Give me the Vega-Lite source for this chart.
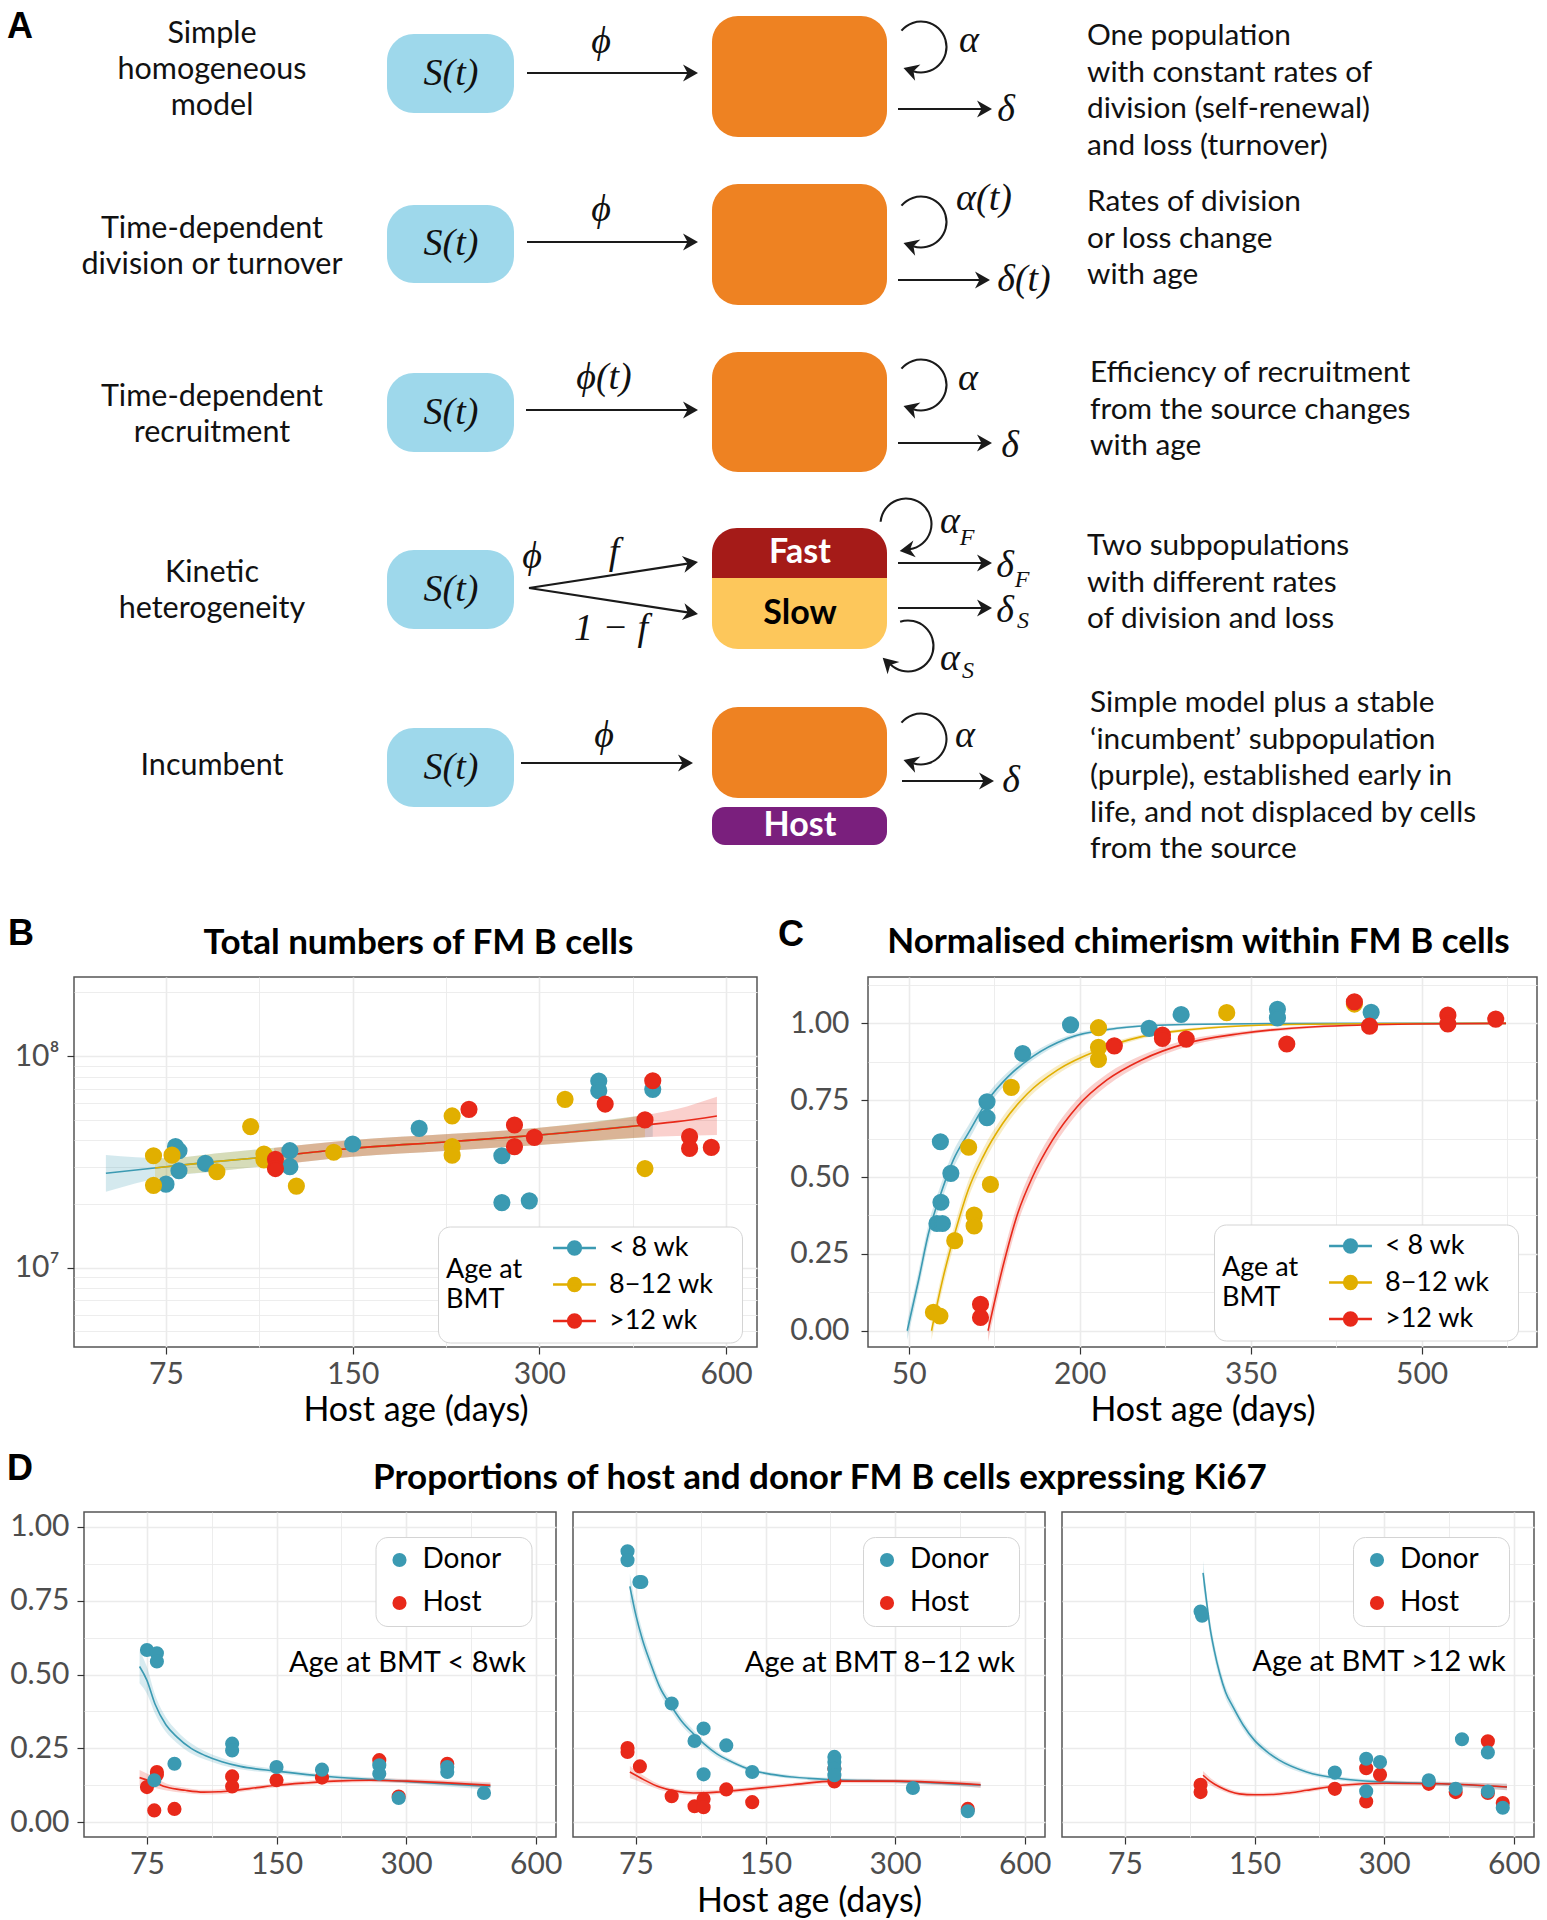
{
"$schema": "https://vega.github.io/schema/vega-lite/v6.json",
"background": "white",
"padding": 0,
"bounds": "flush",
"spacing": 165,
"resolve": {"scale": {"x": "independent", "y": "independent", "color": "independent", "fill": "independent", "stroke": "independent"}, "legend": {"color": "independent", "fill": "independent", "stroke": "independent"}},
"datasets": {
"boxes": [
{"kind":"S","x1":387,"x2":514,"y1":34,"y2":113},
{"kind":"S","x1":387,"x2":514,"y1":205,"y2":283},
{"kind":"S","x1":387,"x2":514,"y1":373,"y2":452},
{"kind":"S","x1":387,"x2":514,"y1":550,"y2":629},
{"kind":"S","x1":387,"x2":514,"y1":728,"y2":807},
{"kind":"pool","x1":712,"x2":887,"y1":16,"y2":137},
{"kind":"pool","x1":712,"x2":887,"y1":184,"y2":305},
{"kind":"pool","x1":712,"x2":887,"y1":352,"y2":472},
{"kind":"pool","x1":712,"x2":887,"y1":707,"y2":798},
{"kind":"fast","x1":712,"x2":887,"y1":528,"y2":578},
{"kind":"slow","x1":712,"x2":887,"y1":578,"y2":649},
{"kind":"host","x1":712,"x2":887,"y1":807,"y2":845}
],
"shafts": [
{"x":527,"y":73,"xe":694,"ye":73},
{"x":527,"y":242,"xe":694,"ye":242},
{"x":526,"y":410,"xe":694,"ye":410},
{"x":529,"y":588,"xe":694,"ye":562.6},
{"x":529,"y":588,"xe":694,"ye":613.4},
{"x":521,"y":763,"xe":689,"ye":763},
{"x":898,"y":109,"xe":988,"ye":109},
{"x":898,"y":280,"xe":986,"ye":280},
{"x":898,"y":443,"xe":988,"ye":443},
{"x":898,"y":563,"xe":988,"ye":563},
{"x":898,"y":608,"xe":988,"ye":608},
{"x":902,"y":781,"xe":990,"ye":781}
],
"heads": [
{"x":698,"y":73,"dir":"right"},{"x":698,"y":242,"dir":"right"},{"x":698,"y":410,"dir":"right"},
{"x":698,"y":562,"dir":"up"},{"x":698,"y":614,"dir":"down"},{"x":693,"y":763,"dir":"right"},
{"x":992,"y":109,"dir":"right"},{"x":990,"y":280,"dir":"right"},{"x":992,"y":443,"dir":"right"},
{"x":992,"y":563,"dir":"right"},{"x":992,"y":608,"dir":"right"},{"x":994,"y":781,"dir":"right"},
{"x":903.5,"y":68,"dir":"loop"},{"x":903.5,"y":243,"dir":"loop"},{"x":903.5,"y":406,"dir":"loop"},{"x":903.5,"y":760,"dir":"loop"},
{"x":899.7,"y":551,"dir":"loopF"},{"x":882.7,"y":657.7,"dir":"loopS"}
],
"loops": [
{"kind":"std","x":921,"y":47},{"kind":"std","x":921,"y":222},{"kind":"std","x":921,"y":385},{"kind":"std","x":921,"y":739},
{"kind":"F","x":906,"y":524},{"kind":"S","x":908,"y":646}
],
"leftText": [
{"t":"Simple\nhomogeneous\nmodel","x":212,"y":43},
{"t":"Time-dependent\ndivision or turnover","x":212,"y":238},
{"t":"Time-dependent\nrecruitment","x":212,"y":406},
{"t":"Kinetic\nheterogeneity","x":212,"y":582},
{"t":"Incumbent","x":212,"y":775}
],
"rightText": [
{"t":"One population\nwith constant rates of\ndivision (self-renewal)\nand loss (turnover)","x":1087,"y":45},
{"t":"Rates of division\nor loss change\nwith age","x":1087,"y":211},
{"t":"Efficiency of recruitment\nfrom the source changes\nwith age","x":1090,"y":382},
{"t":"Two subpopulations\nwith different rates\nof division and loss","x":1087,"y":555},
{"t":"Simple model plus a stable\n‘incumbent’ subpopulation\n(purple), established early in\nlife, and not displaced by cells\nfrom the source","x":1090,"y":712}
],
"mathText": [
{"t":"S(t)","x":451,"y":73.5},{"t":"S(t)","x":451,"y":244},{"t":"S(t)","x":451,"y":412.5},{"t":"S(t)","x":451,"y":589.5},{"t":"S(t)","x":451,"y":767.5},
{"t":"ϕ","x":601,"y":42},{"t":"ϕ","x":601,"y":210},{"t":"ϕ(t)","x":604,"y":378},{"t":"ϕ","x":532,"y":557},{"t":"ϕ","x":604,"y":736},
{"t":"f","x":614,"y":553},{"t":"1 − f","x":611,"y":629},
{"t":"α","x":969,"y":41},{"t":"α(t)","x":984,"y":199},{"t":"α","x":968,"y":379},{"t":"α","x":965,"y":736},{"t":"α","x":950,"y":522},{"t":"α","x":950,"y":659},
{"t":"δ","x":1006,"y":110},{"t":"δ(t)","x":1024,"y":280},{"t":"δ","x":1010,"y":446},{"t":"δ","x":1011,"y":781},{"t":"δ","x":1005,"y":566},{"t":"δ","x":1005,"y":611}
],
"subText": [
{"t":"F","x":967,"y":538},{"t":"S","x":968,"y":671},{"t":"F","x":1022,"y":580},{"t":"S","x":1023,"y":621}
],
"boxText": [
{"t":"Fast","x":800,"y":553,"kind":"w"},{"t":"Slow","x":800,"y":613.5,"kind":"b"},{"t":"Host","x":800,"y":826,"kind":"w"}
],
"letterA": [{"t":"A","x":7,"y":38}],
"countPts": [
{"grp":"< 8 wk","age":77.7,"n":37300000},{"grp":"< 8 wk","age":78.7,"n":35700000},{"grp":"< 8 wk","age":78.7,"n":28700000},
{"grp":"< 8 wk","age":75,"n":24800000},{"grp":"< 8 wk","age":86.8,"n":31100000},{"grp":"< 8 wk","age":118.8,"n":35700000},
{"grp":"< 8 wk","age":118.8,"n":30000000},{"grp":"< 8 wk","age":150,"n":38400000},{"grp":"< 8 wk","age":192,"n":45500000},
{"grp":"< 8 wk","age":261,"n":33800000},{"grp":"< 8 wk","age":261,"n":20300000},{"grp":"< 8 wk","age":289,"n":20700000},
{"grp":"< 8 wk","age":374,"n":76200000},{"grp":"< 8 wk","age":374,"n":68600000},{"grp":"< 8 wk","age":457,"n":69600000},
{"grp":"8−12 wk","age":71.6,"n":33800000},{"grp":"8−12 wk","age":71.6,"n":24500000},{"grp":"8−12 wk","age":76.7,"n":34000000},
{"grp":"8−12 wk","age":90.6,"n":28400000},{"grp":"8−12 wk","age":102.7,"n":46400000},{"grp":"8−12 wk","age":107.9,"n":34400000},
{"grp":"8−12 wk","age":107.9,"n":32300000},{"grp":"8−12 wk","age":121.7,"n":24300000},{"grp":"8−12 wk","age":139.8,"n":35100000},
{"grp":"8−12 wk","age":217,"n":52100000},{"grp":"8−12 wk","age":217,"n":37300000},{"grp":"8−12 wk","age":217,"n":34000000},
{"grp":"8−12 wk","age":330,"n":62400000},{"grp":"8−12 wk","age":444,"n":29400000},
{"grp":">12 wk","age":112.6,"n":32500000},{"grp":">12 wk","age":112.6,"n":29400000},{"grp":">12 wk","age":231,"n":56000000},
{"grp":">12 wk","age":273.5,"n":47200000},{"grp":">12 wk","age":273.5,"n":37300000},{"grp":">12 wk","age":294.5,"n":41300000},
{"grp":">12 wk","age":383,"n":59300000},{"grp":">12 wk","age":444,"n":49900000},{"grp":">12 wk","age":457,"n":76400000},
{"grp":">12 wk","age":524,"n":41600000},{"grp":">12 wk","age":524,"n":36600000},{"grp":">12 wk","age":568,"n":37000000}
],
"countFit": [
{"grp":"< 8 wk","age":60,"mid":27930000,"lo":22860000,"hi":34040000},
{"grp":"< 8 wk","age":75,"mid":29990000,"lo":26920000,"hi":32890000},
{"grp":"< 8 wk","age":90,"mid":31700000,"lo":28440000,"hi":34670000},
{"grp":"< 8 wk","age":110,"mid":33420000,"lo":30340000,"hi":36640000},
{"grp":"< 8 wk","age":150,"mid":36640000,"lo":33420000,"hi":40090000},
{"grp":"< 8 wk","age":214,"mid":39360000,"lo":35730000,"hi":42760000},
{"grp":"< 8 wk","age":300,"mid":42360000,"lo":38020000,"hi":45810000},
{"grp":"< 8 wk","age":444,"mid":47210000,"lo":41300000,"hi":52600000},
{"grp":"< 8 wk","age":457,"mid":47530000,"lo":41500000,"hi":53210000},
{"grp":"8−12 wk","age":72,"mid":29580000,"lo":26300000,"hi":33110000},
{"grp":"8−12 wk","age":75,"mid":29990000,"lo":26920000,"hi":32890000},
{"grp":"8−12 wk","age":90,"mid":31700000,"lo":28440000,"hi":34670000},
{"grp":"8−12 wk","age":110,"mid":33420000,"lo":30340000,"hi":36640000},
{"grp":"8−12 wk","age":150,"mid":36640000,"lo":33420000,"hi":40090000},
{"grp":"8−12 wk","age":214,"mid":39360000,"lo":35730000,"hi":42760000},
{"grp":"8−12 wk","age":300,"mid":42360000,"lo":38020000,"hi":45810000},
{"grp":"8−12 wk","age":444,"mid":47210000,"lo":41300000,"hi":52600000},
{"grp":">12 wk","age":112,"mid":33570000,"lo":30480000,"hi":36810000},
{"grp":">12 wk","age":150,"mid":36640000,"lo":33420000,"hi":40090000},
{"grp":">12 wk","age":214,"mid":39360000,"lo":35730000,"hi":42760000},
{"grp":">12 wk","age":300,"mid":42360000,"lo":38020000,"hi":45810000},
{"grp":">12 wk","age":444,"mid":47210000,"lo":41300000,"hi":52600000},
{"grp":">12 wk","age":500,"mid":48980000,"lo":41880000,"hi":56230000},
{"grp":">12 wk","age":580,"mid":52120000,"lo":42360000,"hi":64270000}
],
"chimPts": [
{"grp":"< 8 wk","age":77.8,"chi":0.615},{"grp":"< 8 wk","age":87,"chi":0.512},{"grp":"< 8 wk","age":78.3,"chi":0.418},
{"grp":"< 8 wk","age":74.8,"chi":0.349},{"grp":"< 8 wk","age":79.6,"chi":0.349},{"grp":"< 8 wk","age":118.7,"chi":0.745},
{"grp":"< 8 wk","age":118.7,"chi":0.693},{"grp":"< 8 wk","age":150,"chi":0.902},{"grp":"< 8 wk","age":192,"chi":0.995},
{"grp":"< 8 wk","age":260.9,"chi":0.984},{"grp":"< 8 wk","age":289,"chi":1.029},{"grp":"< 8 wk","age":373.5,"chi":1.046},
{"grp":"< 8 wk","age":373.5,"chi":1.018},{"grp":"< 8 wk","age":455.7,"chi":1.036},
{"grp":"8−12 wk","age":71.7,"chi":0.06},{"grp":"8−12 wk","age":77.4,"chi":0.048},{"grp":"8−12 wk","age":90.4,"chi":0.293},
{"grp":"8−12 wk","age":102.6,"chi":0.597},{"grp":"8−12 wk","age":107.4,"chi":0.376},{"grp":"8−12 wk","age":107.4,"chi":0.341},
{"grp":"8−12 wk","age":121.7,"chi":0.476},{"grp":"8−12 wk","age":140,"chi":0.792},{"grp":"8−12 wk","age":216.5,"chi":0.986},
{"grp":"8−12 wk","age":216.5,"chi":0.922},{"grp":"8−12 wk","age":216.5,"chi":0.883},{"grp":"8−12 wk","age":329,"chi":1.035},
{"grp":"8−12 wk","age":441,"chi":1.063},
{"grp":">12 wk","age":113,"chi":0.086},{"grp":">12 wk","age":113,"chi":0.043},{"grp":">12 wk","age":230.4,"chi":0.927},
{"grp":">12 wk","age":272.6,"chi":0.962},{"grp":">12 wk","age":272.6,"chi":0.951},{"grp":">12 wk","age":293.5,"chi":0.949},
{"grp":">12 wk","age":381.7,"chi":0.933},{"grp":">12 wk","age":441,"chi":1.07},{"grp":">12 wk","age":454.3,"chi":0.991},
{"grp":">12 wk","age":523,"chi":1.027},{"grp":">12 wk","age":523,"chi":0.998},{"grp":">12 wk","age":565,"chi":1.014}
],
"chimFit": [
{"grp":"< 8 wk","age":48.7,"mid":0,"lo":-0.03,"hi":0.03},
{"grp":"< 8 wk","age":58.7,"mid":0.165,"lo":0.135,"hi":0.195},
{"grp":"< 8 wk","age":67.4,"mid":0.317,"lo":0.287,"hi":0.347},
{"grp":"< 8 wk","age":78.3,"mid":0.447,"lo":0.417,"hi":0.477},
{"grp":"< 8 wk","age":89.1,"mid":0.555,"lo":0.527,"hi":0.583},
{"grp":"< 8 wk","age":102.2,"mid":0.642,"lo":0.617,"hi":0.667},
{"grp":"< 8 wk","age":119.6,"mid":0.751,"lo":0.73,"hi":0.772},
{"grp":"< 8 wk","age":137,"mid":0.826,"lo":0.81,"hi":0.842},
{"grp":"< 8 wk","age":158.7,"mid":0.892,"lo":0.88,"hi":0.904},
{"grp":"< 8 wk","age":189,"mid":0.951,"lo":0.943,"hi":0.959},
{"grp":"< 8 wk","age":232.6,"mid":0.984,"lo":0.979,"hi":0.989},
{"grp":"< 8 wk","age":276,"mid":0.995,"lo":0.992,"hi":0.998},
{"grp":"< 8 wk","age":350,"mid":0.999,"lo":0.997,"hi":1.001},
{"grp":"< 8 wk","age":450,"mid":1,"lo":0.999,"hi":1.001},
{"grp":"< 8 wk","age":574,"mid":1,"lo":0.999,"hi":1.001},
{"grp":"8−12 wk","age":70,"mid":0,"lo":-0.03,"hi":0.03},
{"grp":"8−12 wk","age":80.4,"mid":0.176,"lo":0.146,"hi":0.206},
{"grp":"8−12 wk","age":91.3,"mid":0.328,"lo":0.298,"hi":0.358},
{"grp":"8−12 wk","age":102.2,"mid":0.458,"lo":0.43,"hi":0.486},
{"grp":"8−12 wk","age":115.2,"mid":0.566,"lo":0.54,"hi":0.592},
{"grp":"8−12 wk","age":132.6,"mid":0.675,"lo":0.653,"hi":0.697},
{"grp":"8−12 wk","age":154.3,"mid":0.772,"lo":0.754,"hi":0.79},
{"grp":"8−12 wk","age":180.4,"mid":0.848,"lo":0.834,"hi":0.862},
{"grp":"8−12 wk","age":216.5,"mid":0.913,"lo":0.903,"hi":0.923},
{"grp":"8−12 wk","age":254.3,"mid":0.957,"lo":0.95,"hi":0.964},
{"grp":"8−12 wk","age":297.8,"mid":0.98,"lo":0.975,"hi":0.985},
{"grp":"8−12 wk","age":363,"mid":0.995,"lo":0.992,"hi":0.998},
{"grp":"8−12 wk","age":450,"mid":0.999,"lo":0.998,"hi":1},
{"grp":"8−12 wk","age":574,"mid":1,"lo":0.999,"hi":1.001},
{"grp":">12 wk","age":119.6,"mid":0,"lo":-0.035,"hi":0.035},
{"grp":">12 wk","age":132.6,"mid":0.208,"lo":0.173,"hi":0.243},
{"grp":">12 wk","age":145.7,"mid":0.382,"lo":0.35,"hi":0.414},
{"grp":">12 wk","age":158.7,"mid":0.501,"lo":0.471,"hi":0.531},
{"grp":">12 wk","age":176.1,"mid":0.62,"lo":0.593,"hi":0.647},
{"grp":">12 wk","age":197.8,"mid":0.729,"lo":0.706,"hi":0.752},
{"grp":">12 wk","age":223.9,"mid":0.816,"lo":0.797,"hi":0.835},
{"grp":">12 wk","age":254.3,"mid":0.881,"lo":0.866,"hi":0.896},
{"grp":">12 wk","age":293.5,"mid":0.935,"lo":0.924,"hi":0.946},
{"grp":">12 wk","age":341.3,"mid":0.967,"lo":0.96,"hi":0.974},
{"grp":">12 wk","age":406.5,"mid":0.989,"lo":0.985,"hi":0.993},
{"grp":">12 wk","age":493.5,"mid":0.998,"lo":0.996,"hi":1},
{"grp":">12 wk","age":574,"mid":1,"lo":0.999,"hi":1.001}
],
"kiPts": [
{"bmt":"a","src":"Host","age":75,"ki":0.119},{"bmt":"a","src":"Host","age":79.1,"ki":0.17},{"bmt":"a","src":"Host","age":79.1,"ki":0.161},
{"bmt":"a","src":"Host","age":78,"ki":0.04},{"bmt":"a","src":"Host","age":86.9,"ki":0.045},{"bmt":"a","src":"Host","age":118.3,"ki":0.155},
{"bmt":"a","src":"Host","age":118.3,"ki":0.121},{"bmt":"a","src":"Host","age":150,"ki":0.142},{"bmt":"a","src":"Host","age":191.3,"ki":0.151},
{"bmt":"a","src":"Host","age":259.9,"ki":0.21},{"bmt":"a","src":"Host","age":288.3,"ki":0.087},{"bmt":"a","src":"Host","age":373.9,"ki":0.198},
{"bmt":"a","src":"Donor","age":75,"ki":0.583},{"bmt":"a","src":"Donor","age":79.1,"ki":0.572},{"bmt":"a","src":"Donor","age":79.1,"ki":0.544},
{"bmt":"a","src":"Donor","age":86.9,"ki":0.198},{"bmt":"a","src":"Donor","age":78,"ki":0.142},{"bmt":"a","src":"Donor","age":118.3,"ki":0.266},
{"bmt":"a","src":"Donor","age":118.3,"ki":0.243},{"bmt":"a","src":"Donor","age":150,"ki":0.187},{"bmt":"a","src":"Donor","age":191.3,"ki":0.178},
{"bmt":"a","src":"Donor","age":259.9,"ki":0.193},{"bmt":"a","src":"Donor","age":259.9,"ki":0.164},{"bmt":"a","src":"Donor","age":288.3,"ki":0.082},
{"bmt":"a","src":"Donor","age":373.9,"ki":0.187},{"bmt":"a","src":"Donor","age":373.9,"ki":0.17},{"bmt":"a","src":"Donor","age":455,"ki":0.099},
{"bmt":"b","src":"Host","age":71.7,"ki":0.251},{"bmt":"b","src":"Host","age":71.7,"ki":0.238},{"bmt":"b","src":"Host","age":76.6,"ki":0.189},
{"bmt":"b","src":"Host","age":90.8,"ki":0.088},{"bmt":"b","src":"Host","age":102.6,"ki":0.054},{"bmt":"b","src":"Host","age":107.7,"ki":0.079},
{"bmt":"b","src":"Host","age":107.7,"ki":0.051},{"bmt":"b","src":"Host","age":121.6,"ki":0.111},{"bmt":"b","src":"Host","age":139.7,"ki":0.068},
{"bmt":"b","src":"Host","age":216.8,"ki":0.181},{"bmt":"b","src":"Host","age":216.8,"ki":0.138},{"bmt":"b","src":"Host","age":442.6,"ki":0.045},
{"bmt":"b","src":"Donor","age":71.7,"ki":0.917},{"bmt":"b","src":"Donor","age":71.7,"ki":0.887},{"bmt":"b","src":"Donor","age":76.4,"ki":0.813},
{"bmt":"b","src":"Donor","age":77.2,"ki":0.813},{"bmt":"b","src":"Donor","age":90.8,"ki":0.402},{"bmt":"b","src":"Donor","age":102.6,"ki":0.275},
{"bmt":"b","src":"Donor","age":107.7,"ki":0.317},{"bmt":"b","src":"Donor","age":107.7,"ki":0.162},{"bmt":"b","src":"Donor","age":121.6,"ki":0.26},
{"bmt":"b","src":"Donor","age":139.7,"ki":0.17},{"bmt":"b","src":"Donor","age":216.8,"ki":0.221},{"bmt":"b","src":"Donor","age":216.8,"ki":0.204},
{"bmt":"b","src":"Donor","age":216.8,"ki":0.181},{"bmt":"b","src":"Donor","age":216.8,"ki":0.159},{"bmt":"b","src":"Donor","age":330,"ki":0.116},
{"bmt":"b","src":"Donor","age":442.6,"ki":0.037},
{"bmt":"c","src":"Host","age":112.4,"ki":0.127},{"bmt":"c","src":"Host","age":112.4,"ki":0.102},{"bmt":"c","src":"Host","age":230.5,"ki":0.113},
{"bmt":"c","src":"Host","age":272.6,"ki":0.183},{"bmt":"c","src":"Host","age":272.6,"ki":0.07},{"bmt":"c","src":"Host","age":293.5,"ki":0.161},
{"bmt":"c","src":"Host","age":381,"ki":0.13},{"bmt":"c","src":"Host","age":440,"ki":0.102},{"bmt":"c","src":"Host","age":522.6,"ki":0.274},
{"bmt":"c","src":"Host","age":522.6,"ki":0.099},{"bmt":"c","src":"Host","age":566,"ki":0.065},
{"bmt":"c","src":"Donor","age":112.4,"ki":0.713},{"bmt":"c","src":"Donor","age":113.3,"ki":0.699},{"bmt":"c","src":"Donor","age":230.5,"ki":0.168},
{"bmt":"c","src":"Donor","age":272.6,"ki":0.215},{"bmt":"c","src":"Donor","age":272.6,"ki":0.105},{"bmt":"c","src":"Donor","age":293.5,"ki":0.204},
{"bmt":"c","src":"Donor","age":381,"ki":0.142},{"bmt":"c","src":"Donor","age":440,"ki":0.113},{"bmt":"c","src":"Donor","age":455,"ki":0.281},
{"bmt":"c","src":"Donor","age":522.6,"ki":0.236},{"bmt":"c","src":"Donor","age":522.6,"ki":0.104},{"bmt":"c","src":"Donor","age":566,"ki":0.049}
],
"kiFit": [
{"bmt":"a","src":"Donor","age":72.1,"mid":0.527,"lo":0.47,"hi":0.58},
{"bmt":"a","src":"Donor","age":75,"mid":0.48,"lo":0.435,"hi":0.525},
{"bmt":"a","src":"Donor","age":78.3,"mid":0.4,"lo":0.368,"hi":0.432},
{"bmt":"a","src":"Donor","age":83,"mid":0.33,"lo":0.305,"hi":0.355},
{"bmt":"a","src":"Donor","age":88,"mid":0.289,"lo":0.268,"hi":0.31},
{"bmt":"a","src":"Donor","age":95,"mid":0.25,"lo":0.233,"hi":0.267},
{"bmt":"a","src":"Donor","age":102.3,"mid":0.226,"lo":0.212,"hi":0.24},
{"bmt":"a","src":"Donor","age":112,"mid":0.205,"lo":0.193,"hi":0.217},
{"bmt":"a","src":"Donor","age":123.6,"mid":0.189,"lo":0.179,"hi":0.199},
{"bmt":"a","src":"Donor","age":150,"mid":0.173,"lo":0.165,"hi":0.181},
{"bmt":"a","src":"Donor","age":203.6,"mid":0.153,"lo":0.146,"hi":0.16},
{"bmt":"a","src":"Donor","age":272,"mid":0.142,"lo":0.135,"hi":0.149},
{"bmt":"a","src":"Donor","age":366,"mid":0.13,"lo":0.122,"hi":0.138},
{"bmt":"a","src":"Donor","age":471,"mid":0.121,"lo":0.11,"hi":0.132},
{"bmt":"a","src":"Host","age":72.1,"mid":0.151,"lo":0.125,"hi":0.177},
{"bmt":"a","src":"Host","age":78,"mid":0.135,"lo":0.117,"hi":0.153},
{"bmt":"a","src":"Host","age":83.2,"mid":0.119,"lo":0.107,"hi":0.131},
{"bmt":"a","src":"Host","age":92,"mid":0.108,"lo":0.099,"hi":0.117},
{"bmt":"a","src":"Host","age":101.5,"mid":0.102,"lo":0.094,"hi":0.11},
{"bmt":"a","src":"Host","age":110,"mid":0.103,"lo":0.095,"hi":0.111},
{"bmt":"a","src":"Host","age":120,"mid":0.108,"lo":0.1,"hi":0.116},
{"bmt":"a","src":"Host","age":135,"mid":0.117,"lo":0.11,"hi":0.124},
{"bmt":"a","src":"Host","age":150,"mid":0.125,"lo":0.118,"hi":0.132},
{"bmt":"a","src":"Host","age":175,"mid":0.133,"lo":0.126,"hi":0.14},
{"bmt":"a","src":"Host","age":203.6,"mid":0.139,"lo":0.132,"hi":0.146},
{"bmt":"a","src":"Host","age":247.7,"mid":0.142,"lo":0.135,"hi":0.149},
{"bmt":"a","src":"Host","age":302,"mid":0.139,"lo":0.132,"hi":0.146},
{"bmt":"a","src":"Host","age":366,"mid":0.134,"lo":0.126,"hi":0.142},
{"bmt":"a","src":"Host","age":471,"mid":0.125,"lo":0.115,"hi":0.135},
{"bmt":"b","src":"Donor","age":72.6,"mid":0.798,"lo":0.75,"hi":0.84},
{"bmt":"b","src":"Donor","age":75,"mid":0.7,"lo":0.665,"hi":0.735},
{"bmt":"b","src":"Donor","age":77.7,"mid":0.617,"lo":0.588,"hi":0.646},
{"bmt":"b","src":"Donor","age":81,"mid":0.54,"lo":0.515,"hi":0.565},
{"bmt":"b","src":"Donor","age":85.1,"mid":0.459,"lo":0.439,"hi":0.479},
{"bmt":"b","src":"Donor","age":90.8,"mid":0.391,"lo":0.373,"hi":0.409},
{"bmt":"b","src":"Donor","age":96,"mid":0.34,"lo":0.325,"hi":0.355},
{"bmt":"b","src":"Donor","age":101.9,"mid":0.3,"lo":0.287,"hi":0.313},
{"bmt":"b","src":"Donor","age":108,"mid":0.265,"lo":0.254,"hi":0.276},
{"bmt":"b","src":"Donor","age":115.4,"mid":0.232,"lo":0.222,"hi":0.242},
{"bmt":"b","src":"Donor","age":125,"mid":0.205,"lo":0.197,"hi":0.213},
{"bmt":"b","src":"Donor","age":139.7,"mid":0.176,"lo":0.169,"hi":0.183},
{"bmt":"b","src":"Donor","age":155,"mid":0.162,"lo":0.156,"hi":0.168},
{"bmt":"b","src":"Donor","age":173.4,"mid":0.153,"lo":0.147,"hi":0.159},
{"bmt":"b","src":"Donor","age":216.8,"mid":0.144,"lo":0.138,"hi":0.15},
{"bmt":"b","src":"Donor","age":298,"mid":0.139,"lo":0.133,"hi":0.145},
{"bmt":"b","src":"Donor","age":474,"mid":0.125,"lo":0.117,"hi":0.133},
{"bmt":"b","src":"Host","age":72.6,"mid":0.17,"lo":0.15,"hi":0.19},
{"bmt":"b","src":"Host","age":78,"mid":0.145,"lo":0.132,"hi":0.158},
{"bmt":"b","src":"Host","age":85.1,"mid":0.119,"lo":0.11,"hi":0.128},
{"bmt":"b","src":"Host","age":92,"mid":0.106,"lo":0.098,"hi":0.114},
{"bmt":"b","src":"Host","age":101.9,"mid":0.099,"lo":0.091,"hi":0.107},
{"bmt":"b","src":"Host","age":115.4,"mid":0.102,"lo":0.095,"hi":0.109},
{"bmt":"b","src":"Host","age":127,"mid":0.107,"lo":0.1,"hi":0.114},
{"bmt":"b","src":"Host","age":139.7,"mid":0.113,"lo":0.106,"hi":0.12},
{"bmt":"b","src":"Host","age":173.4,"mid":0.127,"lo":0.12,"hi":0.134},
{"bmt":"b","src":"Host","age":216.8,"mid":0.139,"lo":0.132,"hi":0.146},
{"bmt":"b","src":"Host","age":298,"mid":0.139,"lo":0.132,"hi":0.146},
{"bmt":"b","src":"Host","age":474,"mid":0.127,"lo":0.117,"hi":0.137},
{"bmt":"c","src":"Donor","age":113.9,"mid":0.844,"lo":0.8,"hi":0.885},
{"bmt":"c","src":"Donor","age":116,"mid":0.75,"lo":0.72,"hi":0.78},
{"bmt":"c","src":"Donor","age":118.1,"mid":0.663,"lo":0.635,"hi":0.691},
{"bmt":"c","src":"Donor","age":121,"mid":0.58,"lo":0.555,"hi":0.605},
{"bmt":"c","src":"Donor","age":124.5,"mid":0.504,"lo":0.482,"hi":0.526},
{"bmt":"c","src":"Donor","age":128.5,"mid":0.44,"lo":0.42,"hi":0.46},
{"bmt":"c","src":"Donor","age":133.6,"mid":0.391,"lo":0.373,"hi":0.409},
{"bmt":"c","src":"Donor","age":141,"mid":0.33,"lo":0.315,"hi":0.345},
{"bmt":"c","src":"Donor","age":150,"mid":0.277,"lo":0.264,"hi":0.29},
{"bmt":"c","src":"Donor","age":160,"mid":0.24,"lo":0.229,"hi":0.251},
{"bmt":"c","src":"Donor","age":171.2,"mid":0.21,"lo":0.2,"hi":0.22},
{"bmt":"c","src":"Donor","age":198.2,"mid":0.17,"lo":0.162,"hi":0.178},
{"bmt":"c","src":"Donor","age":238.8,"mid":0.147,"lo":0.14,"hi":0.154},
{"bmt":"c","src":"Donor","age":300,"mid":0.136,"lo":0.13,"hi":0.142},
{"bmt":"c","src":"Donor","age":407.7,"mid":0.13,"lo":0.123,"hi":0.137},
{"bmt":"c","src":"Donor","age":578.8,"mid":0.119,"lo":0.108,"hi":0.13},
{"bmt":"c","src":"Host","age":113.9,"mid":0.159,"lo":0.145,"hi":0.173},
{"bmt":"c","src":"Host","age":118,"mid":0.14,"lo":0.128,"hi":0.152},
{"bmt":"c","src":"Host","age":124.5,"mid":0.119,"lo":0.11,"hi":0.128},
{"bmt":"c","src":"Host","age":131,"mid":0.105,"lo":0.097,"hi":0.113},
{"bmt":"c","src":"Host","age":138.3,"mid":0.096,"lo":0.089,"hi":0.103},
{"bmt":"c","src":"Host","age":150,"mid":0.093,"lo":0.086,"hi":0.1},
{"bmt":"c","src":"Host","age":166,"mid":0.094,"lo":0.087,"hi":0.101},
{"bmt":"c","src":"Host","age":182,"mid":0.1,"lo":0.093,"hi":0.107},
{"bmt":"c","src":"Host","age":198.2,"mid":0.108,"lo":0.101,"hi":0.115},
{"bmt":"c","src":"Host","age":238.8,"mid":0.125,"lo":0.118,"hi":0.132},
{"bmt":"c","src":"Host","age":300,"mid":0.132,"lo":0.125,"hi":0.139},
{"bmt":"c","src":"Host","age":407.7,"mid":0.13,"lo":0.123,"hi":0.137},
{"bmt":"c","src":"Host","age":578.8,"mid":0.119,"lo":0.108,"hi":0.13}
],
"kiNote": [
{"bmt":"a","label":"Age at BMT < 8wk","age":570,"ki":0.507},
{"bmt":"b","label":"Age at BMT 8−12 wk","age":570,"ki":0.507},
{"bmt":"c","label":"Age at BMT >12 wk","age":575,"ki":0.512}
]
},
"vconcat": [
{
"width": 1547, "height": 812,
"layer": [
{"data":{"name":"boxes"},"transform":[{"filter":"datum.kind == 'S'"}],"mark":{"type":"rect","color":"#9ED8EB","cornerRadius":27},
 "encoding":{"x":{"field":"x1","type":"quantitative","scale":{"domain":[0,1547],"nice":false,"zero":false},"axis":null},"x2":{"field":"x2"},
 "y":{"field":"y1","type":"quantitative","scale":{"domain":[0,812],"nice":false,"zero":false,"reverse":true},"axis":null},"y2":{"field":"y2"}}},
{"data":{"name":"boxes"},"transform":[{"filter":"datum.kind == 'pool'"}],"mark":{"type":"rect","color":"#EE8222","cornerRadius":26},
 "encoding":{"x":{"field":"x1","type":"quantitative","scale":{"domain":[0,1547],"nice":false,"zero":false},"axis":null},"x2":{"field":"x2"},
 "y":{"field":"y1","type":"quantitative","scale":{"domain":[0,812],"nice":false,"zero":false,"reverse":true},"axis":null},"y2":{"field":"y2"}}},
{"data":{"name":"boxes"},"transform":[{"filter":"datum.kind == 'fast'"}],"mark":{"type":"rect","color":"#A51B18","cornerRadiusTopLeft":26,"cornerRadiusTopRight":26},
 "encoding":{"x":{"field":"x1","type":"quantitative","scale":{"domain":[0,1547],"nice":false,"zero":false},"axis":null},"x2":{"field":"x2"},
 "y":{"field":"y1","type":"quantitative","scale":{"domain":[0,812],"nice":false,"zero":false,"reverse":true},"axis":null},"y2":{"field":"y2"}}},
{"data":{"name":"boxes"},"transform":[{"filter":"datum.kind == 'slow'"}],"mark":{"type":"rect","color":"#FDC75B","cornerRadiusBottomLeft":26,"cornerRadiusBottomRight":26},
 "encoding":{"x":{"field":"x1","type":"quantitative","scale":{"domain":[0,1547],"nice":false,"zero":false},"axis":null},"x2":{"field":"x2"},
 "y":{"field":"y1","type":"quantitative","scale":{"domain":[0,812],"nice":false,"zero":false,"reverse":true},"axis":null},"y2":{"field":"y2"}}},
{"data":{"name":"boxes"},"transform":[{"filter":"datum.kind == 'host'"}],"mark":{"type":"rect","color":"#7A1F7D","cornerRadius":13},
 "encoding":{"x":{"field":"x1","type":"quantitative","scale":{"domain":[0,1547],"nice":false,"zero":false},"axis":null},"x2":{"field":"x2"},
 "y":{"field":"y1","type":"quantitative","scale":{"domain":[0,812],"nice":false,"zero":false,"reverse":true},"axis":null},"y2":{"field":"y2"}}},
{"data":{"name":"shafts"},"mark":{"type":"rule","color":"#1A1A1A","strokeWidth":2.2},
 "encoding":{"x":{"field":"x","type":"quantitative","scale":{"domain":[0,1547],"nice":false,"zero":false},"axis":null},"x2":{"field":"xe"},
 "y":{"field":"y","type":"quantitative","scale":{"domain":[0,812],"nice":false,"zero":false,"reverse":true},"axis":null},"y2":{"field":"ye"}}},
{"data":{"name":"loops"},"mark":{"type":"point","filled":false,"color":"#1A1A1A","strokeWidth":2.1,"size":2600,"opacity":1},
 "encoding":{"x":{"field":"x","type":"quantitative","scale":{"domain":[0,1547],"nice":false,"zero":false},"axis":null},
 "y":{"field":"y","type":"quantitative","scale":{"domain":[0,812],"nice":false,"zero":false,"reverse":true},"axis":null},
 "shape":{"field":"kind","type":"nominal","legend":null,"scale":{"domain":["std","F","S"],"range":[
 "M -0.766 -0.643 C -0.528 -0.926 -0.154 -1.055 0.208 -0.978 C 0.570 -0.901 0.859 -0.631 0.961 -0.276 C 1.063 0.079 0.961 0.462 0.695 0.719 C 0.429 0.976 0.043 1.065 -0.309 0.951",
 "M -0.996 -0.087 C -0.963 -0.469 -0.713 -0.799 -0.354 -0.935 C 0.005 -1.071 0.410 -0.989 0.688 -0.725 C 0.966 -0.461 1.069 -0.061 0.952 0.305 C 0.835 0.671 0.519 0.937 0.139 0.990",
 "M -0.309 -0.951 C 0.034 -1.062 0.410 -0.981 0.676 -0.737 C 0.942 -0.493 1.055 -0.126 0.974 0.225 C 0.893 0.576 0.630 0.857 0.284 0.959 C -0.062 1.061 -0.436 0.970 -0.695 0.719"
 ]}}}},
{"data":{"name":"heads"},"mark":{"type":"point","filled":true,"color":"#1A1A1A","size":400,"opacity":1,"shape":"M 0 0 L -1.5 -0.85 L -1.05 0 L -1.5 0.85 Z"},
 "encoding":{"x":{"field":"x","type":"quantitative","scale":{"domain":[0,1547],"nice":false,"zero":false},"axis":null},
 "y":{"field":"y","type":"quantitative","scale":{"domain":[0,812],"nice":false,"zero":false,"reverse":true},"axis":null},
 "angle":{"field":"dir","type":"nominal","legend":null,"scale":{"type":"ordinal","domain":["right","up","down","loop","loopF","loopS"],"range":[0,351.25,8.75,198,172,224]}}}},
{"data":{"name":"leftText"},"mark":{"type":"text","font":"Lato","fontSize":30.5,"align":"center","baseline":"alphabetic","lineBreak":"\n","lineHeight":36,"color":"#111111"},
 "encoding":{"x":{"field":"x","type":"quantitative","scale":{"domain":[0,1547],"nice":false,"zero":false},"axis":null},
 "y":{"field":"y","type":"quantitative","scale":{"domain":[0,812],"nice":false,"zero":false,"reverse":true},"axis":null},"text":{"field":"t"}}},
{"data":{"name":"rightText"},"mark":{"type":"text","font":"Lato","fontSize":29.8,"align":"left","baseline":"alphabetic","lineBreak":"\n","lineHeight":36.5,"color":"#111111"},
 "encoding":{"x":{"field":"x","type":"quantitative","scale":{"domain":[0,1547],"nice":false,"zero":false},"axis":null},
 "y":{"field":"y","type":"quantitative","scale":{"domain":[0,812],"nice":false,"zero":false,"reverse":true},"axis":null},"text":{"field":"t"}}},
{"data":{"name":"mathText"},"mark":{"type":"text","font":"Liberation Serif","fontStyle":"italic","fontSize":38,"align":"center","baseline":"middle","color":"#111111"},
 "encoding":{"x":{"field":"x","type":"quantitative","scale":{"domain":[0,1547],"nice":false,"zero":false},"axis":null},
 "y":{"field":"y","type":"quantitative","scale":{"domain":[0,812],"nice":false,"zero":false,"reverse":true},"axis":null},"text":{"field":"t"}}},
{"data":{"name":"subText"},"mark":{"type":"text","font":"Liberation Serif","fontStyle":"italic","fontSize":24,"align":"center","baseline":"middle","color":"#111111"},
 "encoding":{"x":{"field":"x","type":"quantitative","scale":{"domain":[0,1547],"nice":false,"zero":false},"axis":null},
 "y":{"field":"y","type":"quantitative","scale":{"domain":[0,812],"nice":false,"zero":false,"reverse":true},"axis":null},"text":{"field":"t"}}},
{"data":{"name":"boxText"},"transform":[{"filter":"datum.kind == 'w'"}],"mark":{"type":"text","font":"Lato","fontWeight":"bold","fontSize":34,"align":"center","baseline":"middle","color":"#FFFFFF"},
 "encoding":{"x":{"field":"x","type":"quantitative","scale":{"domain":[0,1547],"nice":false,"zero":false},"axis":null},
 "y":{"field":"y","type":"quantitative","scale":{"domain":[0,812],"nice":false,"zero":false,"reverse":true},"axis":null},"text":{"field":"t"}}},
{"data":{"name":"boxText"},"transform":[{"filter":"datum.kind == 'b'"}],"mark":{"type":"text","font":"Lato","fontWeight":"bold","fontSize":34,"align":"center","baseline":"middle","color":"#000000"},
 "encoding":{"x":{"field":"x","type":"quantitative","scale":{"domain":[0,1547],"nice":false,"zero":false},"axis":null},
 "y":{"field":"y","type":"quantitative","scale":{"domain":[0,812],"nice":false,"zero":false,"reverse":true},"axis":null},"text":{"field":"t"}}},
{"data":{"name":"letterA"},"mark":{"type":"text","font":"Liberation Sans","fontWeight":"bold","fontSize":36,"align":"left","baseline":"alphabetic","color":"#000000"},
 "encoding":{"x":{"field":"x","type":"quantitative","scale":{"domain":[0,1547],"nice":false,"zero":false},"axis":null},
 "y":{"field":"y","type":"quantitative","scale":{"domain":[0,812],"nice":false,"zero":false,"reverse":true},"axis":null},"text":{"field":"t"}}}
]
},
{
"hconcat": [
{"width": 57, "height": 1, "data": {"values": []}, "mark": "point",
 "title": {"text": "B", "font": "Liberation Sans", "fontSize": 36, "fontWeight": "bold", "anchor": "start", "frame": "group", "baseline": "alphabetic", "offset": 0, "dy": 4, "dx": 8}},
{
"width": 683, "height": 370,
"view": {"stroke": "#555555", "strokeWidth": 1.5},
"title": {"text": "Total numbers of FM B cells", "fontSize": 35, "fontWeight": "bold", "anchor": "middle", "frame": "group", "baseline": "alphabetic", "offset": 0, "dy": 11.5, "dx": 3},
"encoding": {"x": {"field": "age", "type": "quantitative", "scale": {"type": "log", "domain": [53.3, 673], "nice": false},
 "axis": {"title": "Host age (days)", "values": [75, 106.066, 150, 212.132, 300, 424.264, 600],
  "labelExpr": "indexof([75,150,300,600], datum.value) >= 0 ? format(datum.value, 'd') : ''",
  "tickOpacity": {"condition": {"test": "indexof([75,150,300,600], datum.value) >= 0", "value": 1}, "value": 0},
  "gridWidth": {"condition": {"test": "indexof([75,150,300,600], datum.value) >= 0", "value": 1.6}, "value": 0.9},
  "labelPadding": 5, "titlePadding": 4}}},
"layer": [
{"data": {"name": "countFit"}, "mark": {"type": "area", "opacity": 0.22, "interpolate": "monotone"},
 "encoding": {"y": {"field": "lo", "type": "quantitative", "scale": {"type": "log", "domain": [4220000, 236200000], "nice": false},
  "axis": {"title": null, "values": [5000000,6000000,7000000,8000000,9000000,10000000,20000000,30000000,40000000,50000000,60000000,70000000,80000000,90000000,100000000,200000000],
   "labelExpr": "datum.value == 10000000 ? '10⁷' : datum.value == 100000000 ? '10⁸' : ''",
   "tickOpacity": {"condition": {"test": "datum.value == 10000000 || datum.value == 100000000", "value": 1}, "value": 0},
   "gridWidth": {"condition": {"test": "datum.value == 10000000 || datum.value == 100000000", "value": 1.6}, "value": 0.9},
   "labelPadding": 8}},
 "y2": {"field": "hi"},
 "color": {"field": "grp", "type": "nominal", "scale": {"domain": ["< 8 wk", "8−12 wk", ">12 wk", "fit"], "range": ["#3B9AB2", "#E1AF00", "#E8291A", "#000000"]}, "legend": null}}},
{"data": {"name": "countFit"}, "mark": {"type": "line", "strokeWidth": 1.6, "interpolate": "monotone"},
 "encoding": {"y": {"field": "mid", "type": "quantitative", "scale": {"type": "log", "domain": [4220000, 236200000], "nice": false},
  "axis": {"title": null, "values": [5000000,6000000,7000000,8000000,9000000,10000000,20000000,30000000,40000000,50000000,60000000,70000000,80000000,90000000,100000000,200000000],
   "labelExpr": "datum.value == 10000000 ? '10⁷' : datum.value == 100000000 ? '10⁸' : ''",
   "tickOpacity": {"condition": {"test": "datum.value == 10000000 || datum.value == 100000000", "value": 1}, "value": 0},
   "gridWidth": {"condition": {"test": "datum.value == 10000000 || datum.value == 100000000", "value": 1.6}, "value": 0.9},
   "labelPadding": 8}},
 "color": {"field": "grp", "type": "nominal", "scale": {"domain": ["< 8 wk", "8−12 wk", ">12 wk", "fit"], "range": ["#3B9AB2", "#E1AF00", "#E8291A", "#000000"]}, "legend": null}}},
{"data": {"name": "countPts"}, "mark": {"type": "point", "filled": true, "opacity": 1, "size": 230},
 "encoding": {"y": {"field": "n", "type": "quantitative", "scale": {"type": "log", "domain": [4220000, 236200000], "nice": false},
  "axis": {"title": null, "values": [5000000,6000000,7000000,8000000,9000000,10000000,20000000,30000000,40000000,50000000,60000000,70000000,80000000,90000000,100000000,200000000],
   "labelExpr": "datum.value == 10000000 ? '10⁷' : datum.value == 100000000 ? '10⁸' : ''",
   "tickOpacity": {"condition": {"test": "datum.value == 10000000 || datum.value == 100000000", "value": 1}, "value": 0},
   "gridWidth": {"condition": {"test": "datum.value == 10000000 || datum.value == 100000000", "value": 1.6}, "value": 0.9},
   "labelPadding": 8}},
 "fill": {"field": "grp", "type": "nominal", "scale": {"domain": ["< 8 wk", "8−12 wk", ">12 wk"], "range": ["#3B9AB2", "#E1AF00", "#E8291A"]},
  "legend": {"title": ["Age at", "BMT"], "orient": "none", "legendX": 364, "legendY": 249.5, "titleOrient": "left", "titleAnchor": "middle", "titleFontSize": 27, "titleFontWeight": "normal", "titleLineHeight": 30, "titlePadding": 38,
   "labelFontSize": 27, "labelOffset": 21, "labelExpr": "datum.label + '⠀'", "symbolType": "M -1.95 0 L 1.95 0 M 0.58 0 C 0.58 0.32 0.32 0.58 0 0.58 C -0.32 0.58 -0.58 0.32 -0.58 0 C -0.58 -0.32 -0.32 -0.58 0 -0.58 C 0.32 -0.58 0.58 -0.32 0.58 0 Z",
   "symbolSize": 484, "symbolStrokeWidth": 2.5, "rowPadding": 8.5, "padding": 8, "fillColor": "#FFFFFF", "strokeColor": "#D4D4D4", "cornerRadius": 12}},
 "stroke": {"field": "grp", "type": "nominal", "scale": {"domain": ["< 8 wk", "8−12 wk", ">12 wk"], "range": ["#3B9AB2", "#E1AF00", "#E8291A"]},
  "legend": {"title": ["Age at", "BMT"], "orient": "none", "legendX": 364, "legendY": 249.5, "titleOrient": "left", "titleAnchor": "middle", "titleFontSize": 27, "titleFontWeight": "normal", "titleLineHeight": 30, "titlePadding": 38,
   "labelFontSize": 27, "labelOffset": 21, "labelExpr": "datum.label + '⠀'", "symbolType": "M -1.95 0 L 1.95 0 M 0.58 0 C 0.58 0.32 0.32 0.58 0 0.58 C -0.32 0.58 -0.58 0.32 -0.58 0 C -0.58 -0.32 -0.32 -0.58 0 -0.58 C 0.32 -0.58 0.58 -0.32 0.58 0 Z",
   "symbolSize": 484, "symbolStrokeWidth": 2.5, "rowPadding": 8.5, "padding": 8, "fillColor": "#FFFFFF", "strokeColor": "#D4D4D4", "cornerRadius": 12}}}}
]
},
{"width": 77, "height": 1, "data": {"values": []}, "mark": "point",
 "title": {"text": "C", "font": "Liberation Sans", "fontSize": 36, "fontWeight": "bold", "anchor": "start", "frame": "group", "baseline": "alphabetic", "offset": 0, "dy": 5, "dx": 4}},
{
"width": 669, "height": 370,
"view": {"stroke": "#555555", "strokeWidth": 1.5},
"title": {"text": "Normalised chimerism within FM B cells", "fontSize": 35, "fontWeight": "bold", "anchor": "middle", "frame": "group", "baseline": "alphabetic", "offset": 0, "dy": 18.5, "dx": -4},
"encoding": {"x": {"field": "age", "type": "quantitative", "scale": {"domain": [14.3, 601.2], "nice": false, "zero": false},
 "axis": {"title": "Host age (days)", "values": [50,125,200,275,350,425,500,575],
  "labelExpr": "indexof([50,200,350,500], datum.value) >= 0 ? format(datum.value, 'd') : ''",
  "tickOpacity": {"condition": {"test": "indexof([50,200,350,500], datum.value) >= 0", "value": 1}, "value": 0},
  "gridWidth": {"condition": {"test": "indexof([50,200,350,500], datum.value) >= 0", "value": 1.6}, "value": 0.9},
  "labelPadding": 5, "titlePadding": 4}}},
"layer": [
{"data": {"name": "chimFit"}, "mark": {"type": "area", "opacity": 0.22, "interpolate": "monotone"},
 "encoding": {"y": {"field": "lo", "type": "quantitative", "scale": {"domain": [-0.053, 1.151], "nice": false, "zero": false},
  "axis": {"title": null, "values": [0,0.125,0.25,0.375,0.5,0.625,0.75,0.875,1,1.125],
   "labelExpr": "indexof([0,0.25,0.5,0.75,1], datum.value) >= 0 ? format(datum.value, '.2f') : ''",
   "tickOpacity": {"condition": {"test": "indexof([0,0.25,0.5,0.75,1], datum.value) >= 0", "value": 1}, "value": 0},
   "gridWidth": {"condition": {"test": "indexof([0,0.25,0.5,0.75,1], datum.value) >= 0", "value": 1.6}, "value": 0.9},
   "labelPadding": 12}},
 "y2": {"field": "hi"},
 "color": {"field": "grp", "type": "nominal", "scale": {"domain": ["< 8 wk", "8−12 wk", ">12 wk", "fit"], "range": ["#3B9AB2", "#E1AF00", "#E8291A", "#000000"]}, "legend": null}}},
{"data": {"name": "chimFit"}, "mark": {"type": "line", "strokeWidth": 1.6, "interpolate": "monotone"},
 "encoding": {"y": {"field": "mid", "type": "quantitative", "scale": {"domain": [-0.053, 1.151], "nice": false, "zero": false},
  "axis": {"title": null, "values": [0,0.125,0.25,0.375,0.5,0.625,0.75,0.875,1,1.125],
   "labelExpr": "indexof([0,0.25,0.5,0.75,1], datum.value) >= 0 ? format(datum.value, '.2f') : ''",
   "tickOpacity": {"condition": {"test": "indexof([0,0.25,0.5,0.75,1], datum.value) >= 0", "value": 1}, "value": 0},
   "gridWidth": {"condition": {"test": "indexof([0,0.25,0.5,0.75,1], datum.value) >= 0", "value": 1.6}, "value": 0.9},
   "labelPadding": 12}},
 "color": {"field": "grp", "type": "nominal", "scale": {"domain": ["< 8 wk", "8−12 wk", ">12 wk", "fit"], "range": ["#3B9AB2", "#E1AF00", "#E8291A", "#000000"]}, "legend": null}}},
{"data": {"values": [{}]}, "mark": {"type": "rule", "color": "#000000", "strokeWidth": 1.6, "strokeDash": [10, 8]},
 "encoding": {"x": {"datum": 14.3}, "x2": {"datum": 601.2}, "y": {"datum": 1, "type": "quantitative", "scale": {"domain": [-0.053, 1.151], "nice": false, "zero": false},
  "axis": {"title": null, "values": [0,0.125,0.25,0.375,0.5,0.625,0.75,0.875,1,1.125],
   "labelExpr": "indexof([0,0.25,0.5,0.75,1], datum.value) >= 0 ? format(datum.value, '.2f') : ''",
   "tickOpacity": {"condition": {"test": "indexof([0,0.25,0.5,0.75,1], datum.value) >= 0", "value": 1}, "value": 0},
   "gridWidth": {"condition": {"test": "indexof([0,0.25,0.5,0.75,1], datum.value) >= 0", "value": 1.6}, "value": 0.9},
   "labelPadding": 12}}}},
{"data": {"name": "chimPts"}, "mark": {"type": "point", "filled": true, "opacity": 1, "size": 230},
 "encoding": {"y": {"field": "chi", "type": "quantitative", "scale": {"domain": [-0.053, 1.151], "nice": false, "zero": false},
  "axis": {"title": null, "values": [0,0.125,0.25,0.375,0.5,0.625,0.75,0.875,1,1.125],
   "labelExpr": "indexof([0,0.25,0.5,0.75,1], datum.value) >= 0 ? format(datum.value, '.2f') : ''",
   "tickOpacity": {"condition": {"test": "indexof([0,0.25,0.5,0.75,1], datum.value) >= 0", "value": 1}, "value": 0},
   "gridWidth": {"condition": {"test": "indexof([0,0.25,0.5,0.75,1], datum.value) >= 0", "value": 1.6}, "value": 0.9},
   "labelPadding": 12}},
 "fill": {"field": "grp", "type": "nominal", "scale": {"domain": ["< 8 wk", "8−12 wk", ">12 wk"], "range": ["#3B9AB2", "#E1AF00", "#E8291A"]},
  "legend": {"title": ["Age at", "BMT"], "orient": "none", "legendX": 346, "legendY": 247.5, "titleOrient": "left", "titleAnchor": "middle", "titleFontSize": 27, "titleFontWeight": "normal", "titleLineHeight": 30, "titlePadding": 38,
   "labelFontSize": 27, "labelOffset": 21, "labelExpr": "datum.label + '⠀'", "symbolType": "M -1.95 0 L 1.95 0 M 0.58 0 C 0.58 0.32 0.32 0.58 0 0.58 C -0.32 0.58 -0.58 0.32 -0.58 0 C -0.58 -0.32 -0.32 -0.58 0 -0.58 C 0.32 -0.58 0.58 -0.32 0.58 0 Z",
   "symbolSize": 484, "symbolStrokeWidth": 2.5, "rowPadding": 8.5, "padding": 8, "fillColor": "#FFFFFF", "strokeColor": "#D4D4D4", "cornerRadius": 12}},
 "stroke": {"field": "grp", "type": "nominal", "scale": {"domain": ["< 8 wk", "8−12 wk", ">12 wk"], "range": ["#3B9AB2", "#E1AF00", "#E8291A"]},
  "legend": {"title": ["Age at", "BMT"], "orient": "none", "legendX": 346, "legendY": 247.5, "titleOrient": "left", "titleAnchor": "middle", "titleFontSize": 27, "titleFontWeight": "normal", "titleLineHeight": 30, "titlePadding": 38,
   "labelFontSize": 27, "labelOffset": 21, "labelExpr": "datum.label + '⠀'", "symbolType": "M -1.95 0 L 1.95 0 M 0.58 0 C 0.58 0.32 0.32 0.58 0 0.58 C -0.32 0.58 -0.58 0.32 -0.58 0 C -0.58 -0.32 -0.32 -0.58 0 -0.58 C 0.32 -0.58 0.58 -0.32 0.58 0 Z",
   "symbolSize": 484, "symbolStrokeWidth": 2.5, "rowPadding": 8.5, "padding": 8, "fillColor": "#FFFFFF", "strokeColor": "#D4D4D4", "cornerRadius": 12}}}}
]
}
],
"spacing": 17,
"bounds": "flush",
"resolve": {"scale": {"x": "independent", "y": "independent", "color": "independent", "fill": "independent", "stroke": "independent"}, "legend": {"color": "independent", "fill": "independent", "stroke": "independent"}}
},
{"width": 1, "height": 205, "data": {"values": []}, "mark": "point"},
{
"hconcat": [
{"width": 67, "height": 1, "data": {"values": []}, "mark": "point",
 "title": {"text": "D", "font": "Liberation Sans", "fontSize": 36, "fontWeight": "bold", "anchor": "start", "frame": "group", "baseline": "alphabetic", "offset": 0, "dy": 4, "dx": 7}},
{
"width": 472, "height": 325,
"view": {"stroke": "#555555", "strokeWidth": 1.5},
"encoding": {"x": {"field": "age", "type": "quantitative", "scale": {"type": "log", "domain": [53.56, 668.9], "nice": false},
 "axis": {"title": null, "values": [75, 106.066, 150, 212.132, 300, 424.264, 600],
  "labelExpr": "indexof([75,150,300,600], datum.value) >= 0 ? format(datum.value, 'd') : ''",
  "tickOpacity": {"condition": {"test": "indexof([75,150,300,600], datum.value) >= 0", "value": 1}, "value": 0},
  "gridWidth": {"condition": {"test": "indexof([75,150,300,600], datum.value) >= 0", "value": 1.6}, "value": 0.9},
  "labelPadding": 5}},
 "y": {"field": "ki", "type": "quantitative", "scale": {"domain": [-0.05, 1.05], "nice": false, "zero": false},
  "axis": {"title": null, "values": [0,0.125,0.25,0.375,0.5,0.625,0.75,0.875,1],
   "labelExpr": "indexof([0,0.25,0.5,0.75,1], datum.value) >= 0 ? format(datum.value, '.2f') : ''",
   "tickOpacity": {"condition": {"test": "indexof([0,0.25,0.5,0.75,1], datum.value) >= 0", "value": 1}, "value": 0},
   "gridWidth": {"condition": {"test": "indexof([0,0.25,0.5,0.75,1], datum.value) >= 0", "value": 1.6}, "value": 0.9},
   "labelPadding": 8}}},
"layer": [
{"data": {"name": "kiFit"}, "transform": [{"filter": "datum.bmt == 'a'"}], "mark": {"type": "area", "opacity": 0.2, "interpolate": "monotone"},
 "encoding": {"y": {"field": "lo", "type": "quantitative", "scale": {"domain": [-0.05, 1.05], "nice": false, "zero": false},
  "axis": {"title": null, "values": [0,0.125,0.25,0.375,0.5,0.625,0.75,0.875,1],
   "labelExpr": "indexof([0,0.25,0.5,0.75,1], datum.value) >= 0 ? format(datum.value, '.2f') : ''",
   "tickOpacity": {"condition": {"test": "indexof([0,0.25,0.5,0.75,1], datum.value) >= 0", "value": 1}, "value": 0},
   "gridWidth": {"condition": {"test": "indexof([0,0.25,0.5,0.75,1], datum.value) >= 0", "value": 1.6}, "value": 0.9},
   "labelPadding": 8}},
 "y2": {"field": "hi"},
 "color": {"field": "src", "type": "nominal", "scale": {"domain": ["Donor", "Host", "fit"], "range": ["#3B9AB2", "#E8291A", "#000000"]}, "legend": null}}},
{"data": {"name": "kiFit"}, "transform": [{"filter": "datum.bmt == 'a'"}], "mark": {"type": "line", "strokeWidth": 1.6, "interpolate": "monotone"},
 "encoding": {"y": {"field": "mid", "type": "quantitative", "scale": {"domain": [-0.05, 1.05], "nice": false, "zero": false},
  "axis": {"title": null, "values": [0,0.125,0.25,0.375,0.5,0.625,0.75,0.875,1],
   "labelExpr": "indexof([0,0.25,0.5,0.75,1], datum.value) >= 0 ? format(datum.value, '.2f') : ''",
   "tickOpacity": {"condition": {"test": "indexof([0,0.25,0.5,0.75,1], datum.value) >= 0", "value": 1}, "value": 0},
   "gridWidth": {"condition": {"test": "indexof([0,0.25,0.5,0.75,1], datum.value) >= 0", "value": 1.6}, "value": 0.9},
   "labelPadding": 8}},
 "color": {"field": "src", "type": "nominal", "scale": {"domain": ["Donor", "Host", "fit"], "range": ["#3B9AB2", "#E8291A", "#000000"]}, "legend": null}}},
{"data": {"name": "kiPts"}, "transform": [{"filter": "datum.bmt == 'a'"}], "mark": {"type": "point", "filled": true, "opacity": 1, "size": 200},
 "encoding": {
 "fill": {"field": "src", "type": "nominal", "scale": {"domain": ["Donor", "Host"], "range": ["#3B9AB2", "#E8291A"]},
  "legend": {"title": null, "orient": "none", "legendX": 291.5, "legendY": 25, "labelFontSize": 28, "symbolType": "circle", "symbolSize": 200, "symbolOffset": 1, "labelOffset": 9, "rowPadding": 15, "padding": 9, "fillColor": "#FFFFFF", "strokeColor": "#D4D4D4", "cornerRadius": 12, "labelExpr": "datum.label + '⠀'"}}}},
{"data": {"name": "kiNote"}, "transform": [{"filter": "datum.bmt == 'a'"}], "mark": {"type": "text", "font": "Lato", "fontSize": 29, "align": "right", "baseline": "alphabetic", "color": "#000000"},
 "encoding": {"text": {"field": "label"}}}
]
},
{
"width": 472, "height": 325,
"view": {"stroke": "#555555", "strokeWidth": 1.5},
"title": {"text": "Proportions of host and donor FM B cells expressing Ki67", "fontSize": 35, "fontWeight": "bold", "anchor": "middle", "frame": "group", "baseline": "alphabetic", "offset": 0, "dy": 11.5, "dx": 11},
"encoding": {"x": {"field": "age", "type": "quantitative", "scale": {"type": "log", "domain": [53.56, 668.9], "nice": false},
 "axis": {"title": "Host age (days)", "values": [75, 106.066, 150, 212.132, 300, 424.264, 600],
  "labelExpr": "indexof([75,150,300,600], datum.value) >= 0 ? format(datum.value, 'd') : ''",
  "tickOpacity": {"condition": {"test": "indexof([75,150,300,600], datum.value) >= 0", "value": 1}, "value": 0},
  "gridWidth": {"condition": {"test": "indexof([75,150,300,600], datum.value) >= 0", "value": 1.6}, "value": 0.9},
  "labelPadding": 5, "titlePadding": 5}},
 "y": {"field": "ki", "type": "quantitative", "scale": {"domain": [-0.05, 1.05], "nice": false, "zero": false},
  "axis": {"title": null, "values": [0,0.125,0.25,0.375,0.5,0.625,0.75,0.875,1], "labels": false, "ticks": false,
   "gridWidth": {"condition": {"test": "indexof([0,0.25,0.5,0.75,1], datum.value) >= 0", "value": 1.6}, "value": 0.9}}}},
"layer": [
{"data": {"name": "kiFit"}, "transform": [{"filter": "datum.bmt == 'b'"}], "mark": {"type": "area", "opacity": 0.2, "interpolate": "monotone"},
 "encoding": {"y": {"field": "lo", "type": "quantitative", "scale": {"domain": [-0.05, 1.05], "nice": false, "zero": false},
  "axis": {"title": null, "values": [0,0.125,0.25,0.375,0.5,0.625,0.75,0.875,1], "labels": false, "ticks": false,
   "gridWidth": {"condition": {"test": "indexof([0,0.25,0.5,0.75,1], datum.value) >= 0", "value": 1.6}, "value": 0.9}}},
 "y2": {"field": "hi"},
 "color": {"field": "src", "type": "nominal", "scale": {"domain": ["Donor", "Host", "fit"], "range": ["#3B9AB2", "#E8291A", "#000000"]}, "legend": null}}},
{"data": {"name": "kiFit"}, "transform": [{"filter": "datum.bmt == 'b'"}], "mark": {"type": "line", "strokeWidth": 1.6, "interpolate": "monotone"},
 "encoding": {"y": {"field": "mid", "type": "quantitative", "scale": {"domain": [-0.05, 1.05], "nice": false, "zero": false},
  "axis": {"title": null, "values": [0,0.125,0.25,0.375,0.5,0.625,0.75,0.875,1], "labels": false, "ticks": false,
   "gridWidth": {"condition": {"test": "indexof([0,0.25,0.5,0.75,1], datum.value) >= 0", "value": 1.6}, "value": 0.9}}},
 "color": {"field": "src", "type": "nominal", "scale": {"domain": ["Donor", "Host", "fit"], "range": ["#3B9AB2", "#E8291A", "#000000"]}, "legend": null}}},
{"data": {"name": "kiPts"}, "transform": [{"filter": "datum.bmt == 'b'"}], "mark": {"type": "point", "filled": true, "opacity": 1, "size": 200},
 "encoding": {
 "fill": {"field": "src", "type": "nominal", "scale": {"domain": ["Donor", "Host"], "range": ["#3B9AB2", "#E8291A"]},
  "legend": {"title": null, "orient": "none", "legendX": 290, "legendY": 25, "labelFontSize": 28, "symbolType": "circle", "symbolSize": 200, "symbolOffset": 1, "labelOffset": 9, "rowPadding": 15, "padding": 9, "fillColor": "#FFFFFF", "strokeColor": "#D4D4D4", "cornerRadius": 12, "labelExpr": "datum.label + '⠀'"}}}},
{"data": {"name": "kiNote"}, "transform": [{"filter": "datum.bmt == 'b'"}], "mark": {"type": "text", "font": "Lato", "fontSize": 29, "align": "right", "baseline": "alphabetic", "color": "#000000"},
 "encoding": {"text": {"field": "label"}}}
]
},
{
"width": 472, "height": 325,
"view": {"stroke": "#555555", "strokeWidth": 1.5},
"encoding": {"x": {"field": "age", "type": "quantitative", "scale": {"type": "log", "domain": [53.56, 668.9], "nice": false},
 "axis": {"title": null, "values": [75, 106.066, 150, 212.132, 300, 424.264, 600],
  "labelExpr": "indexof([75,150,300,600], datum.value) >= 0 ? format(datum.value, 'd') : ''",
  "tickOpacity": {"condition": {"test": "indexof([75,150,300,600], datum.value) >= 0", "value": 1}, "value": 0},
  "gridWidth": {"condition": {"test": "indexof([75,150,300,600], datum.value) >= 0", "value": 1.6}, "value": 0.9},
  "labelPadding": 5}},
 "y": {"field": "ki", "type": "quantitative", "scale": {"domain": [-0.05, 1.05], "nice": false, "zero": false},
  "axis": {"title": null, "values": [0,0.125,0.25,0.375,0.5,0.625,0.75,0.875,1], "labels": false, "ticks": false,
   "gridWidth": {"condition": {"test": "indexof([0,0.25,0.5,0.75,1], datum.value) >= 0", "value": 1.6}, "value": 0.9}}}},
"layer": [
{"data": {"name": "kiFit"}, "transform": [{"filter": "datum.bmt == 'c'"}], "mark": {"type": "area", "opacity": 0.2, "interpolate": "monotone"},
 "encoding": {"y": {"field": "lo", "type": "quantitative", "scale": {"domain": [-0.05, 1.05], "nice": false, "zero": false},
  "axis": {"title": null, "values": [0,0.125,0.25,0.375,0.5,0.625,0.75,0.875,1], "labels": false, "ticks": false,
   "gridWidth": {"condition": {"test": "indexof([0,0.25,0.5,0.75,1], datum.value) >= 0", "value": 1.6}, "value": 0.9}}},
 "y2": {"field": "hi"},
 "color": {"field": "src", "type": "nominal", "scale": {"domain": ["Donor", "Host", "fit"], "range": ["#3B9AB2", "#E8291A", "#000000"]}, "legend": null}}},
{"data": {"name": "kiFit"}, "transform": [{"filter": "datum.bmt == 'c'"}], "mark": {"type": "line", "strokeWidth": 1.6, "interpolate": "monotone"},
 "encoding": {"y": {"field": "mid", "type": "quantitative", "scale": {"domain": [-0.05, 1.05], "nice": false, "zero": false},
  "axis": {"title": null, "values": [0,0.125,0.25,0.375,0.5,0.625,0.75,0.875,1], "labels": false, "ticks": false,
   "gridWidth": {"condition": {"test": "indexof([0,0.25,0.5,0.75,1], datum.value) >= 0", "value": 1.6}, "value": 0.9}}},
 "color": {"field": "src", "type": "nominal", "scale": {"domain": ["Donor", "Host", "fit"], "range": ["#3B9AB2", "#E8291A", "#000000"]}, "legend": null}}},
{"data": {"name": "kiPts"}, "transform": [{"filter": "datum.bmt == 'c'"}], "mark": {"type": "point", "filled": true, "opacity": 1, "size": 200},
 "encoding": {
 "fill": {"field": "src", "type": "nominal", "scale": {"domain": ["Donor", "Host"], "range": ["#3B9AB2", "#E8291A"]},
  "legend": {"title": null, "orient": "none", "legendX": 291, "legendY": 25, "labelFontSize": 28, "symbolType": "circle", "symbolSize": 200, "symbolOffset": 1, "labelOffset": 9, "rowPadding": 15, "padding": 9, "fillColor": "#FFFFFF", "strokeColor": "#D4D4D4", "cornerRadius": 12, "labelExpr": "datum.label + '⠀'"}}}},
{"data": {"name": "kiNote"}, "transform": [{"filter": "datum.bmt == 'c'"}], "mark": {"type": "text", "font": "Lato", "fontSize": 29, "align": "right", "baseline": "alphabetic", "color": "#000000"},
 "encoding": {"text": {"field": "label"}}}
]
}
],
"spacing": 17,
"bounds": "flush",
"resolve": {"scale": {"x": "independent", "y": "independent", "color": "independent", "fill": "independent", "stroke": "independent"}, "legend": {"color": "independent", "fill": "independent", "stroke": "independent"}}
}
],
"config": {
 "view": {"stroke": null},
 "font": "Lato",
 "axis": {"domain": false, "labelFont": "Lato", "labelFontSize": 30, "labelColor": "#4D4D4D", "titleFont": "Lato", "titleFontSize": 34, "titleFontWeight": "normal", "titleColor": "#000000",
  "tickColor": "#333333", "tickWidth": 1.2, "tickSize": 7, "gridColor": "#EBEBEB", "labelFlush": false, "labelOverlap": false},
 "legend": {"labelFont": "Lato", "titleFont": "Lato", "labelColor": "#000000", "titleColor": "#000000"},
 "title": {"font": "Lato", "color": "#000000"}
}
}
